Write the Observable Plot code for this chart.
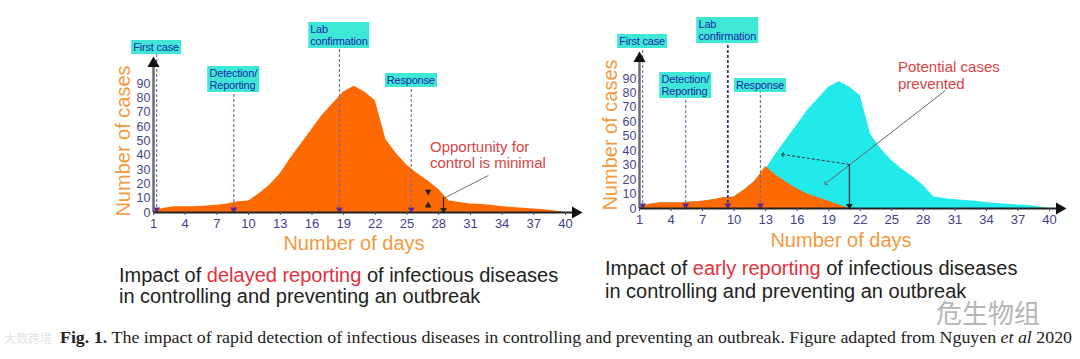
<!DOCTYPE html>
<html><head><meta charset="utf-8">
<script src="https://cdn.jsdelivr.net/npm/d3@7"></script>
<script src="https://cdn.jsdelivr.net/npm/@observablehq/plot@0.6"></script>
<style>
body{margin:0;background:#fff;}
#root{position:relative;width:1080px;height:359px;overflow:hidden;font-family:"Liberation Sans",Arial,sans-serif;background:#fff;}
#root svg.panel{position:absolute;left:0;top:0;}
.box{position:absolute;background:#3fe8d6;color:#1c2aa6;font-size:11px;line-height:12px;padding:1px 2px;text-align:left;transform:translateX(-50%);white-space:nowrap;letter-spacing:-0.2px;}
.axl{position:absolute;color:#f39a3c;font-size:20px;white-space:nowrap;transform:translate(-50%,-50%);}
.axl.rot{transform:translate(-50%,-50%) rotate(-90deg);}
.ann{position:absolute;color:#d9433f;font-size:15px;line-height:16px;white-space:nowrap;}
.title{position:absolute;color:#222;font-size:20px;line-height:21px;white-space:nowrap;}
.title .hl{color:#e3313c;}
.wm{position:absolute;white-space:nowrap;font-family:"Noto Sans CJK SC",sans-serif;}
</style></head><body><div id="root"></div>
<script>
// ---------- data ----------
const days = [1,2,3,4,5,6,7,8,9,10,11,12,13,14,15,16,17,18,19,20,21,22,23,24,25,26,27,28,29,30,31,32,33,34,35,36,37,38,39,40];
const casesDelayed = [1,3,4,4,4,4.5,5,6,7.5,8,13,19,27,38,48,58,68,76,84,88,84,78,51,41,33,27,22,16,8,7,6,5.5,5,4,3.5,3,2.5,2,1,0];
const daysEarly = [1,2,3,4,5,6,7,8,9,10,11,12,13,14,15,16,17,18,19,20,21];
const casesEarly = [1,3,4,4,4,4.5,5,6,7.5,8,13,19,29,23,18,13.5,10,7.5,5,2.5,0];
const xTicks = [1,4,7,10,13,16,19,22,25,28,31,34,37,40];
const yTicks = [0,10,20,30,40,50,60,70,80,90];
const eventLabels = ["First case","Detection/<br>Reporting","Lab<br>confirmation","Response"];
const eventDaysLeft = [1.3,8.6,18.6,25.4];
const eventDaysRight = [1.3,5.4,9.4,12.5];

// ---------- layout ----------
const W = 1080, H = 359;
const leftFrame = {marginLeft:153, marginRight:W-565, marginTop:83, marginBottom:H-212};
const rightFrame = {marginLeft:639, marginRight:W-1049, marginTop:78, marginBottom:H-208};
const boxTopLeft = [40,66,22,73];
const boxTopRight = [34,72,17,78];

const ORANGE = "#ff6a00", CYAN = "#22eaea";
const root = document.getElementById("root");

function panel(frame, eventDays, boxTops, labDark, areaMarks, extraMarks){
  const xs = {domain:[1,40], range:[frame.marginLeft, W - frame.marginRight]};
  const ys = {domain:[0,90], range:[H - frame.marginBottom, frame.marginTop]};
  const X = Plot.scale({x: xs}), Y = Plot.scale({y: ys});
  const xEnd = X.invert(X.apply(40) + 10);
  const yEnd = Y.invert(Y.apply(90) - 20);
  const ev = eventDays.map((d,i)=>({day:d, top:Y.invert(boxTops[i] + 4), i}));
  const dark = d => labDark && d.i===2;
  const chart = Plot.plot({
    width: W, height: H, ...frame,
    x: {domain:[1,40]}, y: {domain:[0,90]},
    style: {background:"transparent", fontFamily:"Liberation Sans, Arial, sans-serif", overflow:"visible"},
    marks: [
      ...areaMarks,
      Plot.ruleX(ev, {x:"day", y1:0, y2:"top", stroke: d => dark(d) ? "#34348a" : "#6a6ab0", strokeWidth: d => dark(d) ? 1.8 : 1.1, strokeDasharray:"3,2"}),
      Plot.dot(ev, {x:"day", y:0, dy:-3, symbol:"triangle", rotate:180, r:2.6, fill:"#5a2a9a", stroke:null}),
      Plot.ruleX([1], {y1:0, y2:yEnd, stroke:"#6d6d6d", strokeWidth:2.5}),
      Plot.dot([yEnd], {x:1, y:d=>d, symbol:"triangle", r:4.5, fill:"#111"}),
      Plot.ruleY([0], {x1:1, x2:xEnd, stroke:"#222", strokeWidth:2}),
      Plot.dot([xEnd], {x:d=>d, y:0, symbol:"triangle", rotate:90, r:4.5, fill:"#111"}),
      Plot.axisX({ticks:xTicks, tickSize:3, tickPadding:3, fontSize:13, color:"#3f3f8f", label:null, tickFormat:d=>d}),
      Plot.axisY({ticks:yTicks, tickSize:0, tickPadding:3, fontSize:12.5, color:"#46468f", label:null, tickFormat:d=>d}),
      ...extraMarks
    ]
  });
  chart.classList.add("panel");
  root.appendChild(chart);
  eventDays.forEach((d,i)=>{
    const b = document.createElement("div");
    b.className = "box";
    b.innerHTML = eventLabels[i];
    b.style.left = X.apply(d) + "px";
    b.style.top = boxTops[i] + "px";
    root.appendChild(b);
  });
  return {X, Y};
}

// left panel
const leftData = days.map((d,i)=>({day:d, cases:casesDelayed[i]}));
panel(leftFrame, eventDaysLeft, boxTopLeft, false,
  [Plot.areaY(leftData, {x:"day", y:"cases", fill:ORANGE})],
  [
    Plot.link([{x1:32.7,y1:25.8,x2:28.45,y2:9.8}], {x1:"x1",y1:"y1",x2:"x2",y2:"y2", stroke:"#777", strokeWidth:1}),
    Plot.link([{x1:28.45,y1:10.7,x2:28.45,y2:0.8}], {x1:"x1",y1:"y1",x2:"x2",y2:"y2", stroke:"#222", strokeWidth:1.2}),
    Plot.dot([{x:28.45,y:1.8}], {x:"x", y:"y", symbol:"triangle", rotate:180, r:2.5, fill:"#222"}),
    Plot.dot([{x:27.0,y:14.6,a:-60},{x:27.0,y:4.9,a:-120}], {x:"x", y:"y", symbol:"triangle", rotate:"a", r:2.5, fill:"#222"})
  ]);

// right panel
const earlyData = daysEarly.map((d,i)=>({day:d, cases:casesEarly[i]}));
panel(rightFrame, eventDaysRight, boxTopRight, true,
  [Plot.areaY(leftData, {x:"day", y:"cases", fill:CYAN}),
   Plot.areaY(earlyData, {x:"day", y:"cases", fill:ORANGE})],
  [
    Plot.link([{x1:30.1,y1:81.7,x2:18.7,y2:17.3}], {x1:"x1",y1:"y1",x2:"x2",y2:"y2", stroke:"#666", strokeWidth:1, markerEnd:"arrow"}),
    Plot.link([{x1:20.97,y1:30.5,x2:14.6,y2:37.4}], {x1:"x1",y1:"y1",x2:"x2",y2:"y2", stroke:"#333", strokeWidth:1, strokeDasharray:"3,2", markerEnd:"arrow"}),
    Plot.link([{x1:20.97,y1:30.5,x2:20.97,y2:1}], {x1:"x1",y1:"y1",x2:"x2",y2:"y2", stroke:"#1d3a3a", strokeWidth:1.3}),
    Plot.dot([{x:20.97,y:1.8}], {x:"x", y:"y", symbol:"triangle", rotate:180, r:2.5, fill:"#222"})
  ]);

// ---------- HTML text ----------
function add(cls, html, style){
  const e = document.createElement("div");
  e.className = cls; e.innerHTML = html;
  Object.assign(e.style, style);
  root.appendChild(e);
  return e;
}
add("axl rot", "Number of cases", {left:"123px", top:"141px"});
add("axl rot", "Number of cases", {left:"610px", top:"135px"});
add("axl", "Number of days", {left:"354px", top:"243px"});
add("axl", "Number of days", {left:"841px", top:"240px"});
add("ann", "Opportunity for<br>control is minimal", {left:"430px", top:"139px"});
add("ann", "Potential cases<br>prevented", {left:"898px", top:"58px", lineHeight:"17px"});
add("title", 'Impact of <span class="hl">delayed reporting</span> of infectious diseases<br>in controlling and preventing an outbreak', {left:"119px", top:"265px"});
add("title", 'Impact of <span class="hl">early reporting</span> of infectious diseases<br>in controlling and preventing an outbreak', {left:"605px", top:"257px", lineHeight:"23px"});
add("wm", "危生物组", {left:"936px", top:"293px", fontSize:"26px", color:"#b5b5b5"});
add("wm", "大数跨境", {left:"4px", top:"329px", fontSize:"12px", color:"#e3e3e3"});

// caption
const ns = "http://www.w3.org/2000/svg";
const cap = document.createElementNS(ns, "svg");
cap.setAttribute("width", W); cap.setAttribute("height", 30);
Object.assign(cap.style, {position:"absolute", left:"0px", top:"324px"});
const t = document.createElementNS(ns, "text");
t.setAttribute("x", 60); t.setAttribute("y", 19);
t.setAttribute("font-family", "Liberation Serif, serif");
t.setAttribute("font-size", "16");
t.setAttribute("fill", "#222");
t.setAttribute("textLength", 1012);
t.setAttribute("lengthAdjust", "spacingAndGlyphs");
const b1 = document.createElementNS(ns, "tspan");
b1.setAttribute("font-weight", "bold");
b1.textContent = "Fig. 1. ";
t.appendChild(b1);
const b2 = document.createElementNS(ns, "tspan");
b2.textContent = "The impact of rapid detection of infectious diseases in controlling and preventing an outbreak. Figure adapted from Nguyen ";
t.appendChild(b2);
const b3 = document.createElementNS(ns, "tspan");
b3.setAttribute("font-style", "italic");
b3.textContent = "et al";
t.appendChild(b3);
const b4 = document.createElementNS(ns, "tspan");
b4.textContent = " 2020";
t.appendChild(b4);
cap.appendChild(t);
root.appendChild(cap);
</script></body></html>
